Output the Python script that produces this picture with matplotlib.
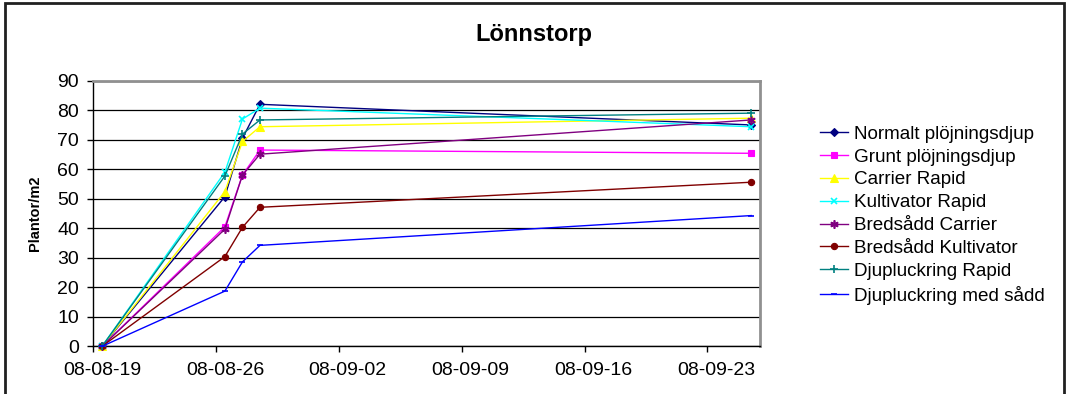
import matplotlib
matplotlib.use("Agg")
import matplotlib.pyplot as plt
import matplotlib.dates as mdates
import numpy as np
from matplotlib.patches import Rectangle

plt.rcParams['font.family'] = ['Liberation Sans', 'DejaVu Sans']

dates = np.array(['2008-08-19', '2008-08-26', '2008-08-27', '2008-08-28', '2008-09-25'], dtype='datetime64[D]')
tick_dates = np.array(['2008-08-19', '2008-08-26', '2008-09-02', '2008-09-09', '2008-09-16', '2008-09-23'], dtype='datetime64[D]')

normalt = [0, 50.7, 70.5, 82.0, 75.0]
grunt = [0, 40.5, 58.0, 66.5, 65.4]
carrier_rapid = [0, 52.4, 69.4, 74.4, 77.3]
kultivator_rapid = [0, 59.0, 77.0, 80.7, 74.4]
bredsadd_carrier = [0, 39.7, 58.0, 65.1, 76.7]
bredsadd_kultivator = [0, 30.4, 40.3, 47.1, 55.6]
djup_rapid = [0, 57.7, 71.9, 76.7, 79.0]
djup_sadd = [0, 18.7, 28.6, 34.2, 44.3]

series = [
    ("Normalt plöjningsdjup", normalt, "#000080", "D", 4.2),
    ("Grunt plöjningsdjup", grunt, "#FF00FF", "s", 4.5),
    ("Carrier Rapid", carrier_rapid, "#FFFF00", "^", 5.5),
    ("Kultivator Rapid", kultivator_rapid, "#00FFFF", "x", 5),
    ("Bredsådd Carrier", bredsadd_carrier, "#800080", (6, 2, 0), 6),
    ("Bredsådd Kultivator", bredsadd_kultivator, "#800000", "o", 4.5),
    ("Djupluckring Rapid", djup_rapid, "#008080", "+", 6),
    ("Djupluckring med sådd", djup_sadd, "#0000FF", "_", 5),
]

fig = plt.figure(figsize=(10.66, 3.94), dpi=100)
W, H = 1066, 394
ax = fig.add_axes([93.3 / W, 1 - 346.3 / H, (760 - 93.3) / W, (346.3 - 80.7) / H])

xd = dates.astype('datetime64[h]')
for name, vals, col, mk, ms in series:
    ax.plot(xd, vals, color=col, marker=mk, markersize=ms, linewidth=1.0,
            markeredgewidth=1.2 if mk in ("x", "+", "_") or isinstance(mk, tuple) else 0.8,
            label=name, clip_on=False, zorder=3)

half = np.timedelta64(12, 'h')
x0 = tick_dates[0].astype('datetime64[h]') - half
x1 = dates[-1].astype('datetime64[h]') + half
ax.set_xlim(mdates.date2num(x0), mdates.date2num(x1))
ax.set_ylim(0, 90)

ax.set_xticks(mdates.date2num(tick_dates.astype('datetime64[h]')))
ax.xaxis.set_major_formatter(mdates.DateFormatter('%y-%m-%d'))
ax.set_xticks(mdates.date2num(tick_dates.astype('datetime64[h]') - half), minor=True)
ax.tick_params(axis='x', which='major', length=0, pad=11.5, labelsize=14)
ax.tick_params(axis='x', which='minor', length=4.3, width=1, direction='out', color='black')
ax.set_yticks(np.arange(0, 91, 10))
ax.tick_params(axis='y', length=4.3, width=1, direction='out', pad=6, labelsize=14)

ax.grid(axis='y', color='black', linewidth=0.9, zorder=1)
ax.set_axisbelow(True)
for s in ('left', 'bottom'):
    ax.spines[s].set_color('black')
    ax.spines[s].set_linewidth(1.0)
for s in ('top', 'right'):
    ax.spines[s].set_color('#909090')
    ax.spines[s].set_linewidth(2.0)

fig.text(534 / W, 1 - 34 / H, "Lönnstorp", ha='center', va='center', fontsize=17, fontweight='bold')
fig.text(35.5 / W, 1 - 213.5 / H, "Plantor/m2", ha='center', va='center', rotation=90, fontsize=10.5, fontweight='bold')

fig.legend(loc='center left', bbox_to_anchor=(820 / W, 1 - 215 / H), frameon=False,
           fontsize=13.6, handlelength=1.5, handletextpad=0.3, labelspacing=0.3,
           borderpad=0, borderaxespad=0)

fig.patches.append(Rectangle((5 / W, -0.05), (1064 - 5) / W, 1 - 3 / H + 0.05,
                             transform=fig.transFigure, fill=False, edgecolor='#202020', linewidth=2.0))

fig.savefig("out.png", dpi=100)
